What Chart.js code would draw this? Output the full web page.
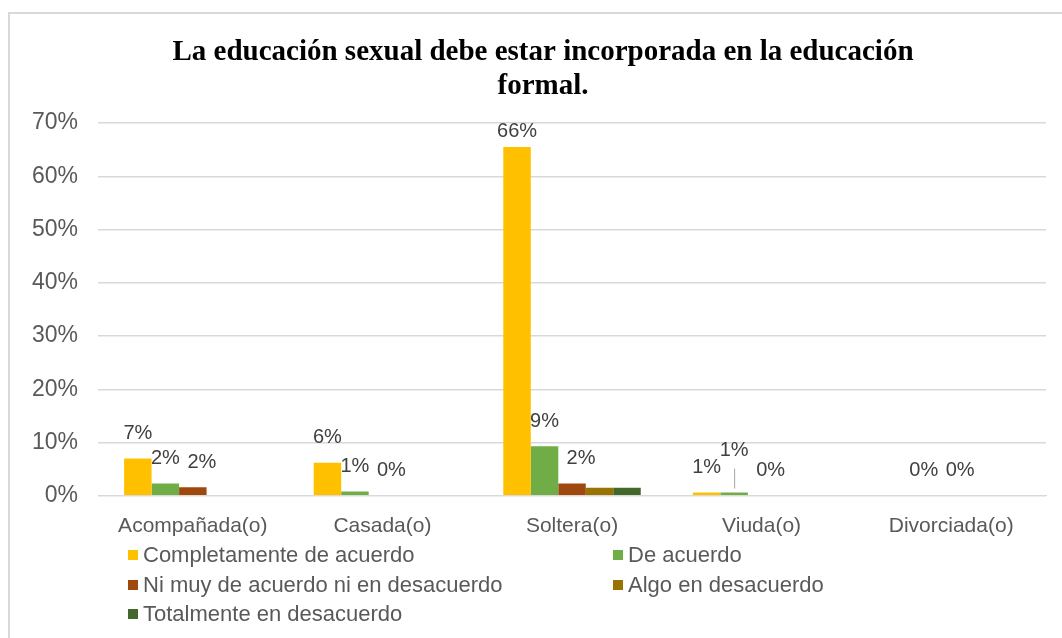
<!DOCTYPE html>
<html>
<head>
<meta charset="utf-8">
<script src="https://cdn.jsdelivr.net/npm/chart.js@4"></script>
<style>
body { margin:0; background:#fff; }
#wrap { position:relative; width:1062px; height:638px; overflow:hidden; }
#frame { position:absolute; left:8px; top:12px; width:1100px; height:700px; border-left:2px solid #d9d9d9; border-top:2px solid #d9d9d9; }
#legend { position:absolute; left:128px; top:542px; width:920px; font-family:"Liberation Sans", Arial, sans-serif; font-size:22px; color:#595959; }
#legend .item { position:absolute; white-space:nowrap; line-height:26px; }
#legend .box { display:inline-block; width:10px; height:10px; margin-right:5px; vertical-align:2px; }
</style>
</head>
<body>
<div id="wrap">
<div id="frame"></div>
<canvas id="mycanvas" width="1062" height="638"></canvas>
<div id="legend"></div>
</div>
<script>
// categories and values (percent)
var categories = ['Acompañada(o)', 'Casada(o)', 'Soltera(o)', 'Viuda(o)', 'Divorciada(o)'];
var seriesNames = ['Completamente de acuerdo', 'De acuerdo', 'Ni muy de acuerdo ni en desacuerdo', 'Algo en desacuerdo', 'Totalmente en desacuerdo'];
var completamente = [7.0, 6.2, 65.5, 0.6, null];
var deAcuerdo = [2.3, 0.8, 9.3, 0.6, 0];
var niMuy = [1.6, 0, 2.3, 0, 0];
var algo = [null, null, 1.5, null, null];
var totalmente = [null, null, 1.5, null, null];
// which points get a data label
var showCompletamente = [true, true, true, true, false];
var showDeAcuerdo = [true, true, true, true, true];
var showNiMuy = [true, true, true, true, true];
var showAlgo = [false, false, false, false, false];
var showTotalmente = [false, false, false, false, false];
var yTicks = [0, 10, 20, 30, 40, 50, 60, 70];

var colors = ['#FFC000', '#70AD47', '#9E480E', '#997300', '#43682B'];
var values = [completamente, deAcuerdo, niMuy, algo, totalmente];
var shows = [showCompletamente, showDeAcuerdo, showNiMuy, showAlgo, showTotalmente];
var labelShift = [0, 0, 9, 0, 0]; //x shift of labels per series

var datasets = [];
for (var i = 0; i < values.length; i++) {
	datasets.push({
		label: seriesNames[i],
		data: values[i],
		backgroundColor: colors[i],
		barPercentage: 1,
		categoryPercentage: 0.725
	});
}

// title drawn by hand so it can sit a bit right of centre like the original
var titlePlugin = {
	id: 'titlePlugin',
	afterDraw: function(chart) {
		var ctx = chart.ctx;
		ctx.save();
		ctx.font = 'bold 29px "Liberation Serif", "Times New Roman", serif';
		ctx.fillStyle = '#000';
		ctx.textAlign = 'center';
		ctx.textBaseline = 'middle';
		ctx.fillText('La educación sexual debe estar incorporada en la educación', 543, 53);
		ctx.fillText('formal.', 543, 87);
		ctx.restore();
	}
};

// data labels above the bars
var labelPlugin = {
	id: 'labelPlugin',
	afterDatasetsDraw: function(chart) {
		var ctx = chart.ctx;
		var area = chart.chartArea;
		ctx.save();
		ctx.font = '20px "Liberation Sans", Arial, sans-serif';
		ctx.fillStyle = '#404040';
		ctx.textAlign = 'center';
		ctx.textBaseline = 'middle';
		chart.data.datasets.forEach(function(ds, d) {
			var meta = chart.getDatasetMeta(d);
			meta.data.forEach(function(bar, j) {
				if (ds.data[j] === null || !shows[d][j]) return;
				var x = bar.x + labelShift[d];
				var y = Math.max(bar.y - 25, area.top + 8);
				// Viuda "De acuerdo" label is lifted with a leader line
				if (d === 1 && j === 3) {
					ctx.strokeStyle = '#a6a6a6';
					ctx.lineWidth = 1;
					ctx.beginPath();
					ctx.moveTo(x + 0.5, bar.y - 4);
					ctx.lineTo(x + 0.5, bar.y - 24);
					ctx.stroke();
					y = bar.y - 42;
				}
				ctx.fillText(Math.round(ds.data[j]) + '%', x, y);
			});
		});
		ctx.restore();
	}
};

var ctx = document.getElementById('mycanvas');
var barGraph = new Chart(ctx, {
	type: 'bar',
	data: { labels: categories, datasets: datasets },
	options: {
		responsive: false,
		animation: false,
		layout: { padding: { left: 12, right: 16, top: 123, bottom: 89 } },
		plugins: {
			legend: { display: false },
			title: { display: false },
			tooltip: { enabled: false }
		},
		scales: {
			x: {
				grid: { display: false },
				border: { color: '#d9d9d9' },
				ticks: { color: '#595959', font: { family: '"Liberation Sans", Arial, sans-serif', size: 21 }, padding: 10 }
			},
			y: {
				min: 0,
				max: 70,
				afterBuildTicks: function(axis) {
					axis.ticks = yTicks.map(function(v) { return { value: v }; });
				},
				grid: { color: '#d9d9d9', lineWidth: 1.5, drawTicks: false },
				border: { display: false },
				ticks: {
					color: '#595959',
					font: { family: '"Liberation Sans", Arial, sans-serif', size: 23 },
					padding: 20,
					callback: function(v) { return v + '%'; }
				}
			}
		}
	},
	plugins: [titlePlugin, labelPlugin]
});

// legend in two columns like the original
var legend = document.getElementById('legend');
var pos = [[0, 0], [485, 0], [0, 30], [485, 30], [0, 59]];
for (var k = 0; k < seriesNames.length; k++) {
	var item = document.createElement('div');
	item.className = 'item';
	item.style.left = pos[k][0] + 'px';
	item.style.top = pos[k][1] + 'px';
	item.innerHTML = '<span class="box" style="background:' + colors[k] + '"></span>' + seriesNames[k];
	legend.appendChild(item);
}
</script>
</body>
</html>
